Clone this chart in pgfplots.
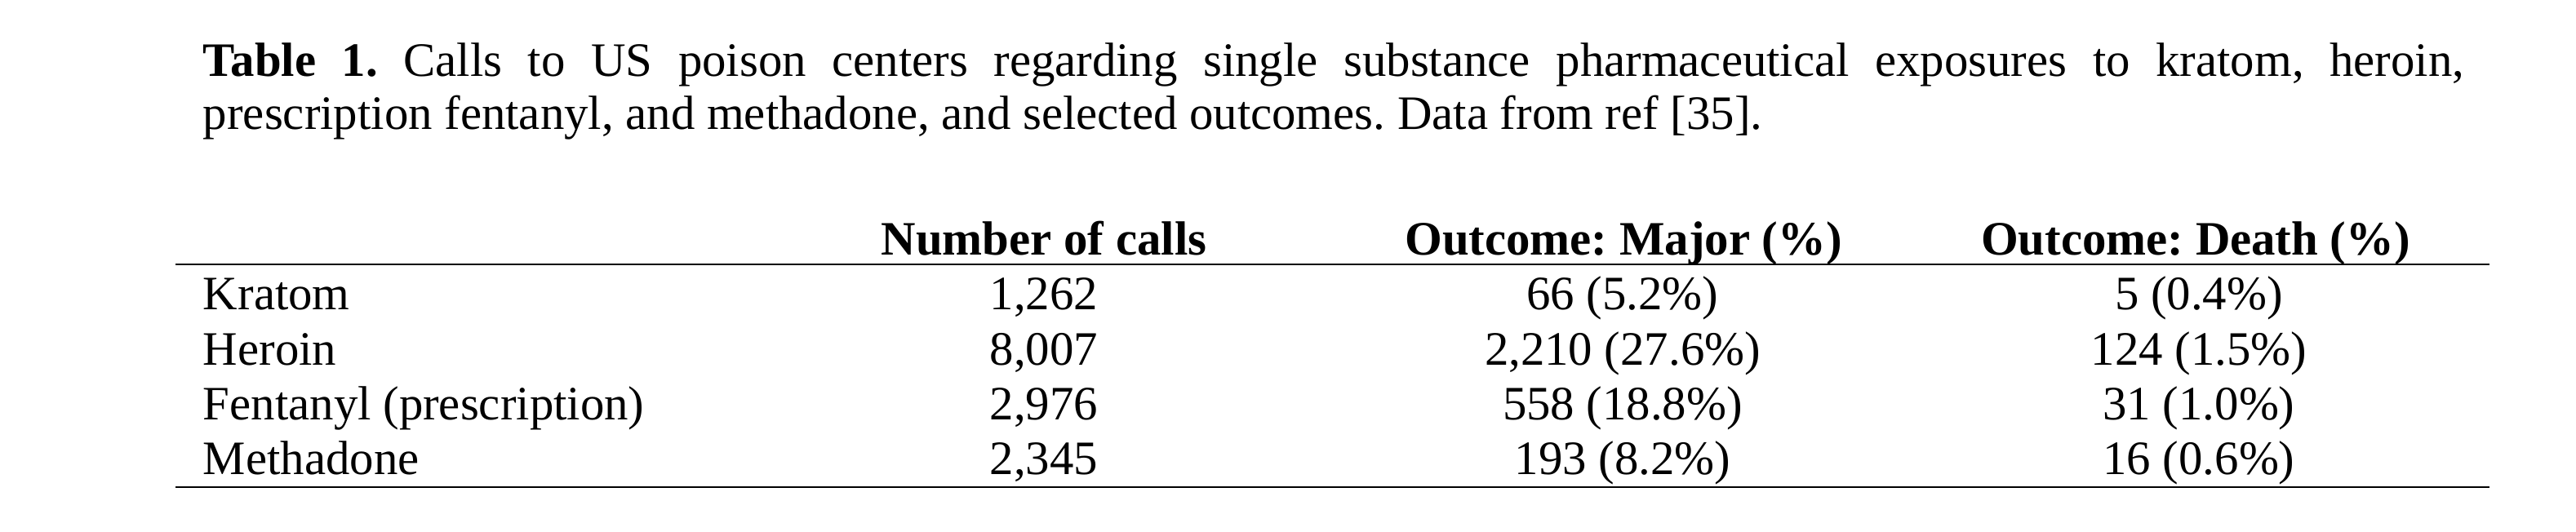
\documentclass[border=0pt]{standalone}
\usepackage{fontspec}
\setmainfont{Liberation Serif}
\usepackage{pgfplots}
\usepackage{pgfplotstable}
\pgfplotsset{compat=1.18}
\pgfkeys{/pgf/number format/.cd, assume math mode=true, 1000 sep={,}}
\AtBeginDocument{\fontsize{12}{14}\selectfont\frenchspacing}

% y = baseline of each row (pixel units of the reference)
\pgfplotstableread[col sep=comma]{
y,label,calls,major,majorpct,death,deathpct
380,Kratom,1262,66,5.2,5,0.4
447.3,Heroin,8007,2210,27.6,124,1.5
514.6,Fentanyl (prescription),2976,558,18.8,31,1.0
581.8,Methadone,2345,193,8.2,16,0.6
}\drugtable

\begin{document}
\begin{tikzpicture}
\useasboundingbox (0,0) rectangle (644.08pt,133.06pt);
\begin{axis}[
  at={(0pt,0pt)}, anchor=south west,
  scale only axis, width=644.08pt, height=133.06pt,
  xmin=0, xmax=3156, ymin=0, ymax=652, y dir=reverse,
  hide axis, clip=false,
  nodes near coords style={inner sep=0pt, black, anchor=base},
]
% caption
\node[anchor=base west, inner sep=0pt] at (axis cs:248,94)
  {\frenchspacing\makebox[565.3pt][s]{\textbf{Table 1.} Calls to US poison centers regarding single substance pharmaceutical exposures to kratom, heroin,}};
\node[anchor=base west, inner sep=0pt] at (axis cs:248,158.3)
  {\frenchspacing prescription fentanyl, and methadone, and selected outcomes. Data from ref [35].};
% header
\node[anchor=base, inner sep=0pt, font=\bfseries] at (axis cs:1279,313) {Number of calls};
\node[anchor=base, inner sep=0pt, font=\bfseries] at (axis cs:1989,313) {Outcome: Major (\%)};
\node[anchor=base, inner sep=0pt, font=\bfseries] at (axis cs:2690,313) {Outcome: Death (\%)};
% rules
\addplot[black, line width=0.4pt, mark=none] coordinates {(215,324.5) (3050,324.5)};
\addplot[black, line width=0.4pt, mark=none] coordinates {(215,597) (3050,597)};
% row labels
\addplot[black, draw=none, mark=none, point meta=explicit symbolic,
  nodes near coords, nodes near coords style={anchor=base west}]
  table[x expr=248, y=y, meta=label] {\drugtable};
% number of calls
\addplot[black, draw=none, mark=none, point meta=explicit,
  nodes near coords={\pgfmathprintnumber[int detect]{\pgfplotspointmeta}}]
  table[x expr=1279, y=y, meta=calls] {\drugtable};
% major
\addplot[black, draw=none, mark=none, point meta=explicit,
  visualization depends on={\thisrow{majorpct}\as\pct},
  nodes near coords={\pgfmathprintnumber[int detect]{\pgfplotspointmeta} (\pgfmathprintnumber[fixed,fixed zerofill,precision=1]{\pct}\%)}]
  table[x expr=1988, y=y, meta=major] {\drugtable};
% death
\addplot[black, draw=none, mark=none, point meta=explicit,
  visualization depends on={\thisrow{deathpct}\as\pct},
  nodes near coords={\pgfmathprintnumber[int detect]{\pgfplotspointmeta} (\pgfmathprintnumber[fixed,fixed zerofill,precision=1]{\pct}\%)}]
  table[x expr=2694, y=y, meta=death] {\drugtable};
\end{axis}
\end{tikzpicture}
\end{document}
